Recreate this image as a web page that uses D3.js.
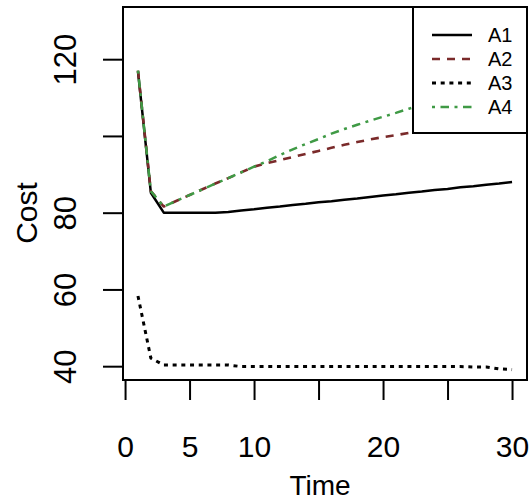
<!DOCTYPE html>
<html>
<head>
<meta charset="utf-8">
<script src="https://cdn.jsdelivr.net/npm/d3@7"></script>
<style>
  html, body { margin: 0; padding: 0; background: #fff; }
  svg { display: block; }
  text { font-family: "Liberation Sans", Arial, sans-serif; fill: #000; }
</style>
</head>
<body>
<svg id="chart" width="529" height="502"></svg>
<script>
// ---- data ----
const time = [1,2,3,4,5,6,7,8,9,10,11,12,13,14,15,16,17,18,19,20,21,22,23,24,25,26,27,28,29,30];
const A1 = [116.8,85.2,80.0,80.0,80.0,80.0,80.0,80.2,80.6,80.9,81.3,81.6,82.0,82.3,82.7,83.0,83.4,83.7,84.1,84.5,84.8,85.2,85.5,85.9,86.2,86.6,86.9,87.3,87.6,88.0];
const A2 = [117.0,85.6,81.6,83.1,84.6,86.1,87.6,89.0,90.5,92.0,92.9,93.7,94.5,95.3,96.1,96.9,97.7,98.4,99.1,99.7,100.2,100.8,101.3,101.8,102.3,102.8,103.3,103.8,104.3,104.8];
const A3 = [58.3,42.1,40.3,40.3,40.3,40.3,40.3,40.3,39.9,39.9,39.9,39.9,39.9,39.9,39.9,39.9,39.9,39.9,39.9,39.9,39.9,39.9,39.9,39.9,39.9,39.9,39.8,39.8,39.3,39.1];
const A4 = [117.0,85.6,81.6,83.1,84.6,86.1,87.6,89.0,90.5,92.0,93.4,95.0,96.5,97.9,99.2,100.6,101.8,102.9,104.0,105.0,106.0,107.1,108.0,109.0,110.0,110.9,111.8,112.7,113.6,114.5];
const seriesNames = ["A1","A2","A3","A4"];
const xTicks = [0,5,10,15,20,25,30];
const xTickLabels = ["0","5","10","","20","","30"];
const yTicks = [40,60,80,100,120];
const yTickLabels = ["40","60","80","","120"];
const yLimits = [40,130];

// ---- styles ----
const styles = {
  A1: { color: "#000000", dash: null, width: 2.5 },
  A2: { color: "#7a2a2a", dash: "8,7", width: 2.6 },
  A3: { color: "#000000", dash: "4,4.7", width: 3 },
  A4: { color: "#3f9a45", dash: "3,5.5,8.5,5.5", width: 2.5 }
};

const svg = d3.select("#chart");
const box = { left: 123, right: 527, top: 7, bottom: 380 };

const xPad = 0.04 * (d3.max(time) - d3.min(time));
const yPad = 0.04 * (yLimits[1] - yLimits[0]);
const x = d3.scaleLinear().domain([d3.min(time) - xPad, d3.max(time) + xPad]).range([box.left, box.right]);
const y = d3.scaleLinear().domain([yLimits[0] - yPad, yLimits[1] + yPad]).range([box.bottom, box.top]);

svg.append("defs").append("clipPath").attr("id", "clip")
  .append("rect").attr("x", box.left).attr("y", box.top)
  .attr("width", box.right - box.left).attr("height", box.bottom - box.top);

const data = { A1, A2, A3, A4 };
const line = d3.line().x((d, i) => x(time[i])).y(d => y(d));
const g = svg.append("g").attr("clip-path", "url(#clip)");
seriesNames.forEach(name => {
  g.append("path")
    .datum(data[name])
    .attr("d", line)
    .attr("fill", "none")
    .attr("stroke", styles[name].color)
    .attr("stroke-width", styles[name].width)
    .attr("stroke-dasharray", styles[name].dash)
    .attr("stroke-linejoin", "round");
});

// ---- axes ----
const xAxis = d3.axisBottom(x).tickValues(xTicks).tickSize(20)
  .tickFormat((d, i) => xTickLabels[i]);
const gx = svg.append("g").attr("transform", `translate(0,${box.bottom})`).call(xAxis);
gx.select(".domain").remove();
gx.selectAll(".tick line").attr("stroke", "#000").attr("stroke-width", 2);
gx.selectAll(".tick text")
  .attr("y", 77).attr("dy", 0)
  .attr("font-size", 30)
  .attr("font-family", "Liberation Sans, Arial, sans-serif");

const yAxis = d3.axisLeft(y).tickValues(yTicks).tickSize(20)
  .tickFormat((d, i) => yTickLabels[i]);
const gy = svg.append("g").attr("transform", `translate(${box.left},0)`).call(yAxis);
gy.select(".domain").remove();
gy.selectAll(".tick line").attr("stroke", "#000").attr("stroke-width", 2);
gy.selectAll(".tick text")
  .attr("x", null).attr("y", null).attr("dy", 0)
  .attr("text-anchor", "middle")
  .attr("transform", "translate(-47,0) rotate(-90)")
  .attr("font-size", 31)
  .attr("font-family", "Liberation Sans, Arial, sans-serif");

// plot box
svg.append("rect")
  .attr("x", box.left).attr("y", box.top)
  .attr("width", box.right - box.left).attr("height", box.bottom - box.top)
  .attr("fill", "none").attr("stroke", "#000").attr("stroke-width", 2);

// axis titles
svg.append("text").attr("x", 320).attr("y", 495)
  .attr("text-anchor", "middle").attr("font-size", 28).text("Time");
svg.append("text").attr("transform", "translate(37,213) rotate(-90)")
  .attr("text-anchor", "middle").attr("font-size", 30).text("Cost");

// ---- legend ----
const lg = svg.append("g");
lg.append("rect").attr("x", 413).attr("y", box.top)
  .attr("width", box.right - 413).attr("height", 133 - box.top)
  .attr("fill", "#fff").attr("stroke", "#000").attr("stroke-width", 2);
seriesNames.forEach((name, i) => {
  const ly = 35 + i * 24;
  lg.append("line").attr("x1", 432).attr("x2", 472).attr("y1", ly).attr("y2", ly)
    .attr("stroke", styles[name].color).attr("stroke-width", styles[name].width)
    .attr("stroke-dasharray", styles[name].dash);
  lg.append("text").attr("x", 488).attr("y", ly + 7).attr("font-size", 20).text(name);
});
</script>
</body>
</html>
